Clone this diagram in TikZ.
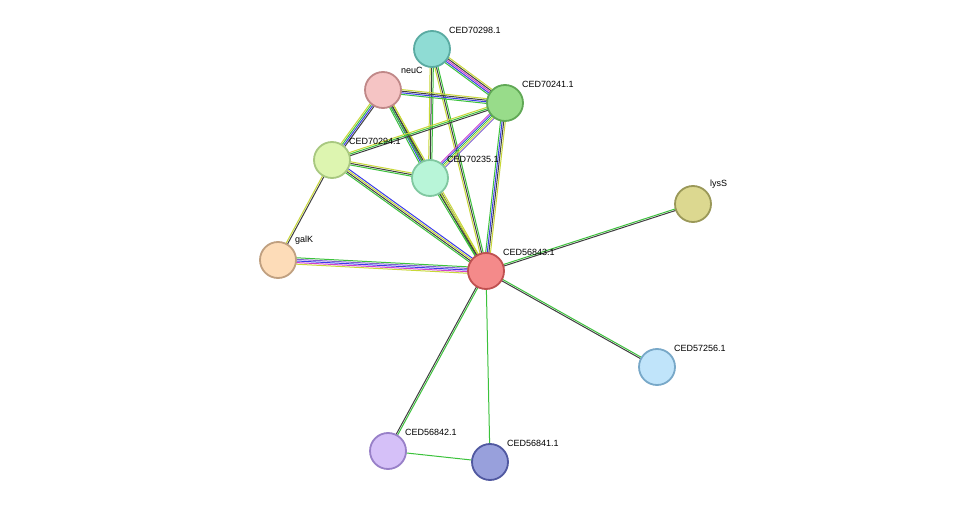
\documentclass[tikz,border=0pt]{standalone}
\usepackage{fontspec}
\setmainfont{Liberation Sans}
\usetikzlibrary{calc}
\definecolor{colg}{HTML}{3CC23C}
\definecolor{colb}{HTML}{3C3CE8}
\definecolor{colm}{HTML}{D040D0}
\definecolor{colk}{HTML}{404040}
\definecolor{coly}{HTML}{C8D838}
\definecolor{colp}{HTML}{8060D0}
\tikzset{
 prot/.style={circle,draw,line width=1.8pt,minimum size=36pt,inner sep=0pt},
 lab/.style={font=\fontsize{9}{10}\selectfont,anchor=south west,inner sep=1pt},
 ed/.style={line width=1pt}
}
\newcommand{\medge}[3]{%
 \foreach \c [count=\i] in {#3} {\xdef\nn{\i}}%
 \foreach \c [count=\i] in {#3} {%
   \pgfmathsetmacro{\off}{(\i-(\nn+1)/2)*1.6}%
   \draw[ed,draw=\c] ($(#1)!\off pt!90:(#2)$) -- ($(#2)!\off pt!-90:(#1)$);}}
\newcommand{\prot}[6]{% name, coord, fill, border, label
 \definecolor{tmpf}{HTML}{#3}\definecolor{tmpd}{HTML}{#4}%
 \node[prot,fill=tmpf,draw=tmpd] (#1) at (#2) {};
 \node[lab] (#1l) at ($(#2)+(#6)$) {#5};}
\begin{document}
\begin{tikzpicture}[x=1pt,y=-1pt]
\useasboundingbox[fill=white] (0,0) rectangle (975,508);
\coordinate (p98) at (432,49);
\coordinate (pneu) at (383,90);
\coordinate (p41) at (505,103);
\coordinate (p94) at (332,160);
\coordinate (p35) at (430,178);
\coordinate (plys) at (693,204);
\coordinate (pgal) at (278,260);
\coordinate (p43) at (486,271);
\coordinate (p56) at (657,367);
\coordinate (p42) at (388,451);
\coordinate (p41b) at (490,462);
\medge{p98}{p41}{colg,colb,colm,colk,coly}
\medge{p98}{p43}{coly,colk,colg}
\medge{p98}{p35}{coly,colk,colg}
\medge{pneu}{p41}{colg,colb,colk,coly}
\medge{pneu}{p94}{coly,colg,colb,colk}
\medge{pneu}{p35}{colg,colb,colk,coly}
\medge{pneu}{p43}{colg,colk,coly}
\medge{p41}{p94}{coly,colg,colk}
\medge{p41}{p35}{colm,colb,colg,coly,colp}
\medge{p41}{p43}{colg,colb,colk,coly}
\medge{p94}{p35}{colg,colk,coly}
\medge{p94}{p43}{colg,colk,coly,colb}
\medge{p94}{pgal}{coly,colk}
\medge{p35}{p43}{colg,colk,coly}
\medge{pgal}{p43}{coly,colm,colb,colp,colg}
\medge{plys}{p43}{colg,colk}
\medge{p56}{p43}{colg,colk}
\medge{p42}{p43}{colg,colk}
\medge{p41b}{p43}{colg}
\medge{p42}{p41b}{colg}
\prot{n98}{p98}{8FDCD4}{5AABA2}{CED70298.1}{16,-14}
\prot{nneu}{pneu}{F5C4C4}{C08888}{neuC}{17,-15}
\prot{n41}{p41}{98DC8A}{60A855}{CED70241.1}{16,-14}
\prot{n94}{p94}{DDF5B0}{A8C880}{CED70294.1}{16,-14}
\prot{n35}{p35}{B8F5D8}{80C8A0}{CED70235.1}{16,-14}
\prot{nlys}{plys}{DCD890}{9A9858}{lysS}{16,-14}
\prot{ngal}{pgal}{FDDCB8}{C0A080}{galK}{16,-14}
\prot{n43}{p43}{F48A8A}{C05050}{CED56843.1}{16,-14}
\prot{n56}{p56}{C0E4FA}{78A8C8}{CED57256.1}{16,-14}
\prot{n42}{p42}{D5C0F8}{9880C8}{CED56842.1}{16,-14}
\prot{n41b}{p41b}{98A0DC}{5058A0}{CED56841.1}{16,-14}
\end{tikzpicture}
\end{document}
